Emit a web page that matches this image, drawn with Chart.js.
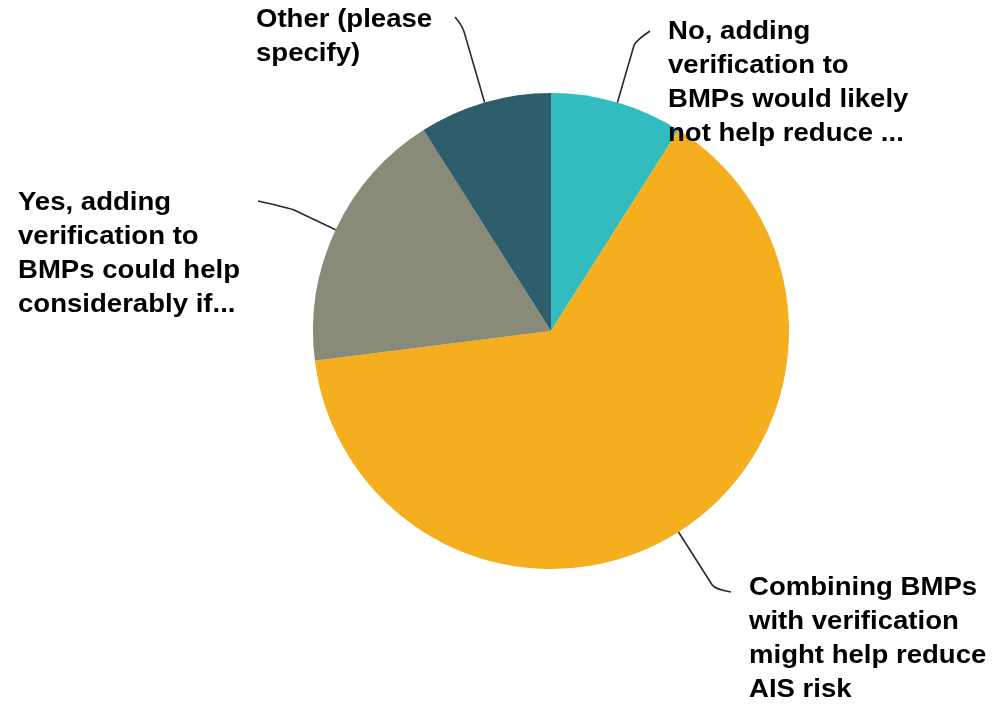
<!DOCTYPE html>
<html>
<head>
<meta charset="utf-8">
<script src="https://cdn.jsdelivr.net/npm/chart.js@4.4.1/dist/chart.umd.min.js"></script>
<style>
  html, body { margin: 0; padding: 0; background: #ffffff; }
  #wrap { width: 998px; height: 704px; }
</style>
</head>
<body>
<div id="wrap"><canvas id="pie" width="998" height="704"></canvas></div>
<script>
// Survey responses (percent of respondents)
const categories = [
  "No, adding verification to BMPs would likely not help reduce ...",
  "Combining BMPs with verification might help reduce AIS risk",
  "Yes, adding verification to BMPs could help considerably if...",
  "Other (please specify)"
];
const values = [9, 64, 18, 9];
const sliceColors = ["#33bcbf", "#f5ae1e", "#8a8a79", "#2e5d6b"];

// How each category name is wrapped when drawn
const wrappedLabels = [
  ["No, adding", "verification to", "BMPs would likely", "not help reduce ..."],
  ["Combining BMPs", "with verification", "might help reduce", "AIS risk"],
  ["Yes, adding", "verification to", "BMPs could help", "considerably if..."],
  ["Other (please", "specify)"]
];

// Label placement: text block origin, leader length beyond the rim, hook end
const labelLayout = [
  { x: 668, y: 32,  lead: 64, hook: [650, 31] },
  { x: 749, y: 588, lead: 68, hook: [731, 592] },
  { x: 18,  y: 203, lead: 50, hook: [258, 201] },
  { x: 256, y: 20,  lead: 80, hook: [455, 17] }
];

const LINE_H = 34;
const FONT = 'bold 26px "Liberation Sans", Arial, sans-serif';
const STRETCH = 1.06;

const calloutPlugin = {
  id: 'callouts',
  afterDraw(chart) {
    const ctx = chart.ctx;
    const meta = chart.getDatasetMeta(0);
    meta.data.forEach((arc, i) => {
      const p = arc.getProps(['x', 'y', 'startAngle', 'endAngle', 'outerRadius'], true);
      const mid = (p.startAngle + p.endAngle) / 2;
      const lay = labelLayout[i];
      const sx = p.x + Math.cos(mid) * p.outerRadius;
      const sy = p.y + Math.sin(mid) * p.outerRadius;
      const ex = p.x + Math.cos(mid) * (p.outerRadius + lay.lead);
      const ey = p.y + Math.sin(mid) * (p.outerRadius + lay.lead);
      ctx.save();
      ctx.strokeStyle = '#2b2b2b';
      ctx.lineWidth = 1.6;
      ctx.beginPath();
      ctx.moveTo(sx, sy);
      const cx = sx + (ex - sx) * 0.92;
      const cy = sy + (ey - sy) * 0.92;
      ctx.lineTo(cx, cy);
      ctx.quadraticCurveTo(ex, ey, lay.hook[0], lay.hook[1]);
      ctx.stroke();

      ctx.fillStyle = '#000000';
      ctx.font = FONT;
      ctx.textBaseline = 'middle';
      ctx.textAlign = 'left';
      wrappedLabels[i].forEach((line, k) => {
        ctx.save();
        ctx.translate(lay.x, lay.y + k * LINE_H);
        ctx.scale(STRETCH, 1);
        ctx.fillText(line, 0, 0);
        ctx.restore();
      });
      ctx.restore();
    });
  }
};

new Chart(document.getElementById('pie'), {
  type: 'pie',
  data: {
    labels: categories,
    datasets: [{
      data: values,
      backgroundColor: sliceColors,
      borderWidth: 0
    }]
  },
  options: {
    responsive: false,
    animation: false,
    layout: { padding: { left: 313, right: 209, top: 93, bottom: 135 } },
    plugins: {
      legend: { display: false },
      tooltip: { enabled: false }
    }
  },
  plugins: [calloutPlugin]
});
</script>
</body>
</html>
